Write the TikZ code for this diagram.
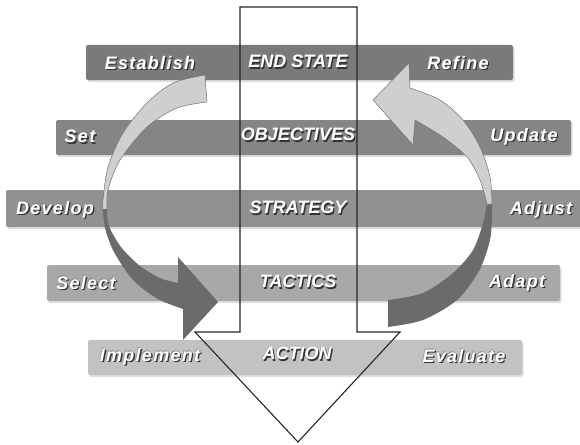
\documentclass[tikz,border=0pt]{standalone}
\usepackage{fontspec}
\usetikzlibrary{shadows}
\newfontfamily\midfont{Liberation Sans}
\newfontfamily\sidefont[LetterSpace=7]{Liberation Sans}

\definecolor{barA}{gray}{0.48}
\definecolor{barB}{gray}{0.52}
\definecolor{barC}{gray}{0.57}
\definecolor{barD}{gray}{0.66}
\definecolor{barE}{gray}{0.76}
\definecolor{ribbonlight}{gray}{0.81}
\definecolor{ribbondark}{gray}{0.42}

% white letters with a dark shadow and a thin grey rim
\newcommand{\emb}[1]{\makebox[0pt][l]{\kern1.3pt\raisebox{-1.3pt}{\color{black!80}#1}}%
  \makebox[0pt][l]{\kern-0.5pt\raisebox{0.5pt}{\color{black!45}#1}}#1}

\begin{document}
\begin{tikzpicture}[x=1pt,y=-1pt,
  bar/.style={rounded corners=2pt, drop shadow={shadow xshift=1.5pt, shadow yshift=-2pt, opacity=0.25}},
  midlbl/.style={text=white, inner sep=0pt, font=\midfont\bfseries\itshape\fontsize{18}{18}\selectfont},
  sidelbl/.style={text=white, inner sep=0pt, font=\sidefont\bfseries\itshape\fontsize{18}{18}\selectfont},
  lightpart/.style={fill=ribbonlight, draw=black!55, line width=0.5pt},
  darkpart/.style={fill=ribbondark}]

\useasboundingbox (0,0) rectangle (580,444);

% the five bars
\fill[bar, barA] (86,45) rectangle (513,80);
\fill[bar, barB] (56,120) rectangle (571,155);
\fill[bar, barC] (6,190) rectangle (590,227);
\fill[bar, barD] (47,265) rectangle (560,301);
\fill[bar, barE] (88,340) rectangle (522,375);

% big arrow down the middle
\draw[line width=1.1pt, black!85, line join=miter]
  (240,7) -- (357,7) -- (357,332) -- (400,332) -- (298,442) -- (195,332) -- (240,332) -- cycle;

% left loop: light tail, dark head
\draw[lightpart] plot[smooth] coordinates {(205,75) (173,83) (147,103) (123,133) (108,167) (103,200) (103,210)}
  -- plot[smooth] coordinates {(107,210) (108,190) (120,160) (147,127) (177,108) (207,102)} -- cycle;
\fill[darkpart] plot[smooth] coordinates {(103,209) (105,228) (114,252) (133,280) (158,299) (183,309)}
  -- (183,340) -- (218,302) -- (178,257) -- (178,283)
  -- plot[smooth] coordinates {(178,283) (160,278) (140,266) (121,247) (109,226) (107,209)} -- cycle;

% right loop: dark tail, light head
\fill[darkpart] plot[smooth] coordinates {(388,327) (423,320) (457,300) (479,271) (490,240) (492,213) (492,203)}
  -- plot[smooth] coordinates {(487,203) (483,223) (473,250) (453,273) (423,293) (388,300)} -- cycle;
\draw[lightpart] plot[smooth] coordinates {(492,204) (490,177) (480,147) (463,120) (440,100) (410,88)}
  -- (409,63) -- (373,100) -- (413,145) -- (415,120)
  -- plot[smooth] coordinates {(415,120) (443,137) (467,157) (480,180) (487,204)} -- cycle;

% middle labels
\node[midlbl] (endstate) at (298,62) {\emb{END STATE}};
\node[midlbl] (objectives) at (298,135) {\emb{OBJECTIVES}};
\node[midlbl] (strategy) at (298,208) {\emb{STRATEGY}};
\node[midlbl] (tactics) at (298,282) {\emb{TACTICS}};
\node[midlbl] (action) at (297,354) {\emb{ACTION}};

% left labels
\node[sidelbl] (establish) at (150,63) {\emb{Establish}};
\node[sidelbl] (set) at (80,137) {\emb{Set}};
\node[sidelbl] (develop) at (55,210) {\emb{Develop}};
\node[sidelbl] (select) at (86,283) {\emb{Select}};
\node[sidelbl] (implement) at (150,357) {\emb{Implement}};

% right labels
\node[sidelbl] (refine) at (458,63) {\emb{Refine}};
\node[sidelbl] (update) at (524,137) {\emb{Update}};
\node[sidelbl] (adjust) at (541,210) {\emb{Adjust}};
\node[sidelbl] (adapt) at (517,283) {\emb{Adapt}};
\node[sidelbl] (evaluate) at (464,356) {\emb{Evaluate}};

\end{tikzpicture}
\end{document}
